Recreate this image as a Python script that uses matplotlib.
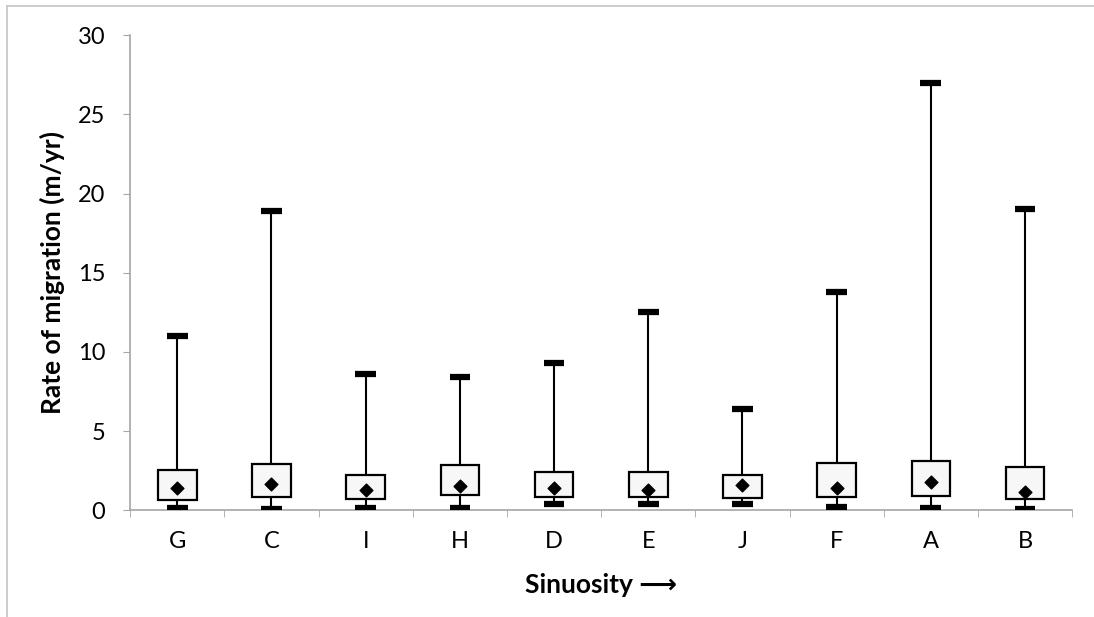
import matplotlib.pyplot as plt
from matplotlib.patches import Rectangle
from matplotlib.lines import Line2D

# dados (m/yr)
categorias = ['G', 'C', 'I', 'H', 'D', 'E', 'J', 'F', 'A', 'B']
minimo = [0.13, 0.06, 0.13, 0.15, 0.40, 0.42, 0.42, 0.19, 0.17, 0.10]
q1 = [0.65, 0.86, 0.73, 0.95, 0.82, 0.86, 0.78, 0.82, 0.90, 0.69]
q3 = [2.53, 2.92, 2.23, 2.86, 2.44, 2.42, 2.25, 2.99, 3.11, 2.75]
media = [1.39, 1.68, 1.30, 1.52, 1.41, 1.30, 1.60, 1.39, 1.79, 1.18]
maximo = [11.0, 18.9, 8.6, 8.4, 9.3, 12.5, 6.4, 13.8, 27.0, 19.0]

plt.rcParams['font.family'] = ['Lato', 'DejaVu Sans']

fig = plt.figure(figsize=(10.94, 6.17), dpi=100)
ax = fig.add_axes([0.119, 0.173, 0.861, 0.770])

# borda da area do grafico (so topo e esquerda aparecem)
fig.lines.append(Line2D([0.0065, 1.0], [0.991, 0.991], transform=fig.transFigure,
                        color='#c8c8c8', lw=1.3))
fig.lines.append(Line2D([0.0065, 0.0065], [0.0, 0.991], transform=fig.transFigure,
                        color='#c8c8c8', lw=1.3))

x = list(range(len(categorias)))
larg = 0.41
cap = 0.11
for i in x:
    # bigodes
    ax.plot([i, i], [q3[i], maximo[i]], color='black', lw=1.5, zorder=2)
    ax.plot([i, i], [minimo[i], q1[i]], color='black', lw=1.5, zorder=2)
    ax.plot([i - cap, i + cap], [maximo[i], maximo[i]], color='black', lw=4.5,
            solid_capstyle='butt', zorder=3)
    ax.plot([i - cap, i + cap], [minimo[i], minimo[i]], color='black', lw=4.5,
            solid_capstyle='butt', zorder=3)
    # caixa
    ax.add_patch(Rectangle((i - larg / 2, q1[i]), larg, q3[i] - q1[i],
                           facecolor='#f7f7f7', edgecolor='black', lw=1.6, zorder=4))
ax.scatter(x, media, marker='D', s=42, color='black', zorder=5)

ax.set_xlim(-0.5, len(categorias) - 0.5)
ax.set_ylim(0, 30)
ax.set_yticks(range(0, 31, 5))
ax.set_xticks(x)
ax.set_xticklabels(categorias)
ax.set_xticks([k - 0.5 for k in range(len(categorias) + 1)], minor=True)
ax.tick_params(axis='x', which='major', length=0, pad=15, labelsize=17)
ax.tick_params(axis='x', which='minor', length=5, color='#a6a6a6', direction='out')
ax.tick_params(axis='y', length=5, color='#a6a6a6', labelsize=17, pad=13)

for s in ['top', 'right']:
    ax.spines[s].set_visible(False)
for s in ['left', 'bottom']:
    ax.spines[s].set_color('#a6a6a6')
    ax.spines[s].set_linewidth(1.2)

ax.set_ylabel('Rate of migration (m/yr)', fontsize=19, fontweight='bold', labelpad=9)
ax.set_xlabel('Sinuosity \u27f6', fontsize=19, fontweight='bold', labelpad=15)

fig.savefig('out.png', dpi=100)
